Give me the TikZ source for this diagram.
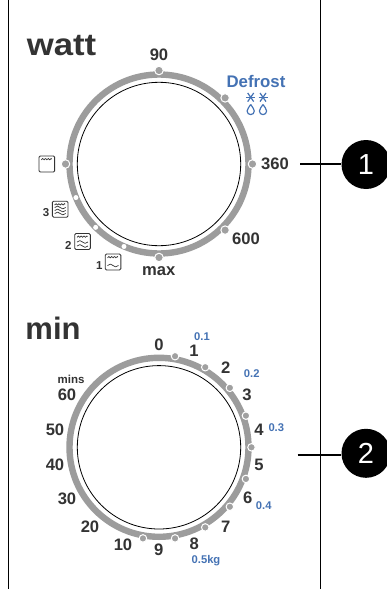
\documentclass[tikz,border=0pt]{standalone}
\usepackage{fontspec}
\usetikzlibrary{calc}
\setmainfont{Liberation Sans}
\definecolor{ink}{HTML}{333333}
\definecolor{ringgray}{HTML}{9C9C9C}
\definecolor{dotgray}{HTML}{A0A0A0}
\definecolor{defblue}{HTML}{4472B4}
\newcommand{\fsz}[1]{\fontsize{#1}{#1}\selectfont}
\tikzset{
  ring/.style={circle,draw=ringgray,line width=6.4pt,minimum size=179pt,inner sep=0pt},
  face/.style={circle,draw=black,line width=0.8pt,minimum size=163.4pt,inner sep=0pt},
  tick/.style={circle,fill=dotgray,draw=white,line width=1pt,minimum size=8.5pt,inner sep=0pt},
  wdot/.style={circle,fill=white,minimum size=5pt,inner sep=0pt},
  title/.style={text=ink,font=\fsz{31}\bfseries,inner sep=0pt},
  num/.style={text=ink,font=\fsz{16.6}\bfseries,inner sep=0pt},
  small/.style={text=ink,font=\fsz{11.5}\bfseries,inner sep=0pt},
  blue/.style={text=defblue,font=\fsz{11.2}\bfseries,inner sep=0pt},
  frame/.style={draw=black,line width=0.9pt},
  lead/.style={draw=black,line width=2pt},
  badge/.style={circle,fill=black,text=white,minimum size=49pt,inner sep=0pt,font=\fsz{29}},
  icon/.style={draw=ink,line width=0.9pt,rounded corners=1.2pt},
  wave/.style={draw=ink,line width=0.7pt},
  pics/oven/.style={code={
    \draw[icon] (-7.8,-8) rectangle (7.8,8);
    \draw[wave] (-5.5,-4.2) -- ++(1.4,-1.3) -- ++(1.4,1.3) -- ++(1.4,-1.3) -- ++(1.4,1.3) -- ++(1.4,-1.3) -- ++(1.4,1.3) -- ++(1.4,-1.3) -- ++(.6,.6);
  }},
  pics/ripple/.style={code={
    \draw[wave] (-5.5,0) .. controls (-3.5,-1.8) and (-1.5,-1.8) .. (0,0) .. controls (1.5,1.8) and (3.5,1.8) .. (5.5,0);
  }},
  flake/.style={draw=defblue,line width=1.2pt},
  drop/.style={draw=defblue,line width=1.2pt}
}
\begin{document}
\begin{tikzpicture}[x=1pt,y=-1pt]
\clip (0,0) rectangle (387,589);
\fill[white] (0,0) rectangle (387,589);
% frame lines
\coordinate (ft1) at (8.5,0); \coordinate (fb1) at (8.5,589);
\coordinate (ft2) at (320.5,0); \coordinate (fb2) at (320.5,589);
\draw[frame] (ft1) -- (fb1);
\draw[frame] (ft2) -- (fb2);
% titles
\node[title,xscale=1.12,transform shape] (twatt) at (61.5,46) {watt};
\node[title] (tmin) at (53,328) {min};
% dial 1
\node[ring] (ring1) at (159,164) {};
\node[face] (face1) at (159,164) {};
\foreach \a/\n in {90/a,45/b,0/c,-45/d,-90/e,180/f}
  \node[tick] (w\n) at ($(159,164)+(\a:93.5 and -93.5)$) {};
\foreach \a/\n in {-113/g,-135/h,-158/i}
  \node[wdot] (w\n) at ($(159,164)+(\a:89.6 and -89.6)$) {};
\node[num] (l90) at (159,55) {90};
\node[num] (l360) at (275,164) {360};
\node[num] (l600) at (246,239) {600};
\node[num] (lmax) at (158.7,271.5) {max};
\node[blue,font=\fsz{16.8}\bfseries] (ldef) at (256,81.7) {Defrost};
% defrost symbol
\foreach \x in {250.7,263}{
  \draw[flake] (\x-4.5,97.3) -- (\x+4.5,97.3);
  \draw[flake] (\x-3,93) -- (\x+3,101.6);
  \draw[flake] (\x+3,93) -- (\x-3,101.6);
  \draw[drop] (\x,104.5) .. controls (\x+1.5,107) and (\x+3.6,109) .. (\x+3.6,111) .. controls (\x+3.6,113.2) and (\x+2,114.6) .. (\x,114.6) .. controls (\x-2,114.6) and (\x-3.6,113.2) .. (\x-3.6,111) .. controls (\x-3.6,109) and (\x-1.5,107) .. (\x,104.5);
}
% oven icons
\path (46.8,164) pic {oven};
\path (60.2,209.2) pic {oven} (60.2,207.5) pic {ripple} (60.2,210.5) pic {ripple} (60.2,213.5) pic {ripple};
\path (82.5,241.5) pic {oven} (82.5,242) pic {ripple} (82.5,246) pic {ripple};
\path (113,262) pic {oven} (113,265.5) pic {ripple};
\node[small] (n3) at (46,213) {3};
\node[small] (n2) at (68.3,245) {2};
\node[small] (n1) at (99.3,266) {1};
% dial 2
\node[ring] (ring2) at (159,447.3) {};
\node[face] (face2) at (159,447.3) {};
\foreach \a/\n in {80/a,60/b,40/c,20/d,0/e,-20/f,-40/g,-60/h,-80/i,-100/j}
  \node[tick,minimum size=7.5pt] (m\n) at ($(159,447.3)+(\a:92.5 and -92.5)$) {};
\foreach \t/\x/\y/\n in {0/159/345/a,1/194/351/b,2/225.7/367.7/c,3/247/395/d,4/259/430/e,5/259/464.7/f,6/247.7/497.3/g,7/225.7/526.7/h,8/194.3/544/i,9/158.7/550/j,10/123/545/k,20/90/527/l,30/67/499/m,40/55/465/n,50/55/430/o,60/67/395/p}
  \node[num] (t\n) at (\x,\y) {\t};
\node[small] (lmins) at (71,379) {mins};
\node[blue] (b1) at (202,336.7) {0.1};
\node[blue] (b2) at (251.7,373.3) {0.2};
\node[blue] (b3) at (276.3,428) {0.3};
\node[blue] (b4) at (263.7,505.7) {0.4};
\node[blue] (b5) at (206,560.7) {0.5kg};
% call-outs
\coordinate (lead1) at (300,164);
\node[badge] (badge1) at (366,164.5) {1};
\coordinate (lead2) at (297.7,455);
\node[badge] (badge2) at (366,453.3) {2};
\draw[lead] (lead1) -- (lead1-|badge1.west);
\draw[lead] (lead2) -- (lead2-|badge2.west);
\end{tikzpicture}
\end{document}
